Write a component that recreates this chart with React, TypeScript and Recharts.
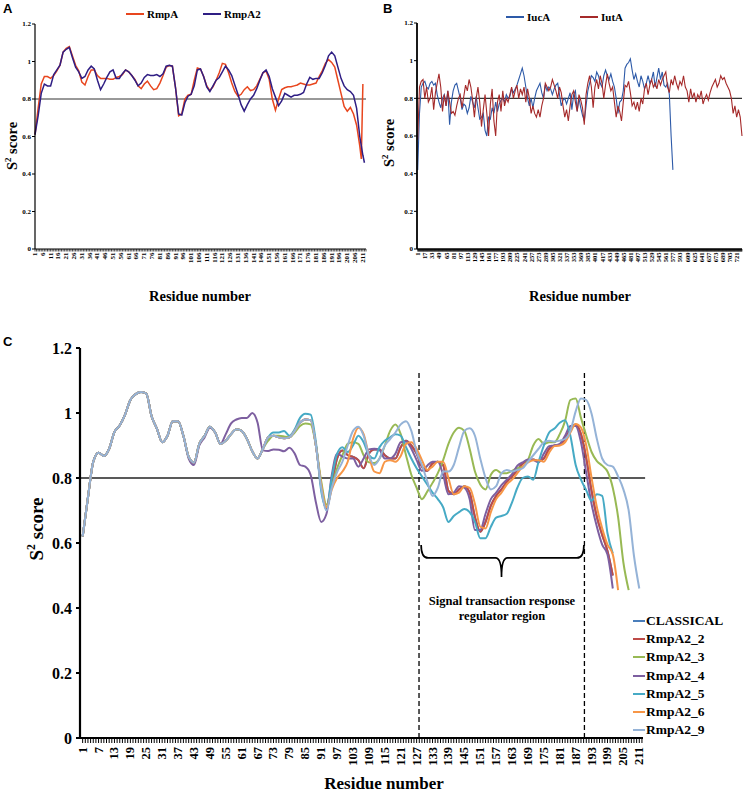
import React from 'react';
import { LineChart, Line, XAxis, YAxis, ReferenceLine, Legend } from 'recharts';

const SERIF = '"Liberation Serif", "Times New Roman", serif';
const SANS = '"Liberation Sans", Arial, sans-serif';

// ---------------- Panel A ----------------
const aResidues = [...Array.from({ length: 105 }, (_, i) => 1 + 2 * i), 210, 211, 212];
const aRmpA = [
  0.61, 0.75, 0.88, 0.92, 0.92, 0.91, 0.925, 0.95, 0.98, 1.05,
  1.07, 1.08, 1.03, 0.98, 0.95, 0.89, 0.875, 0.92, 0.955, 0.955,
  0.925, 0.91, 0.91, 0.91, 0.905, 0.905, 0.915, 0.92, 0.93, 0.955,
  0.945, 0.925, 0.905, 0.87, 0.855, 0.88, 0.895, 0.87, 0.85, 0.855,
  0.885, 0.925, 0.97, 0.978, 0.975, 0.86, 0.71, 0.72, 0.8, 0.82,
  0.825, 0.9, 0.965, 0.96, 0.92, 0.87, 0.845, 0.865, 0.9, 0.94,
  0.99, 0.985, 0.94, 0.885, 0.84, 0.815, 0.825, 0.85, 0.865, 0.845,
  0.85, 0.87, 0.905, 0.94, 0.95, 0.905, 0.8, 0.74, 0.8, 0.85,
  0.86, 0.865, 0.865, 0.87, 0.875, 0.885, 0.88, 0.875, 0.875, 0.88,
  0.885, 0.92, 0.95, 0.99, 1.01, 0.995, 0.97, 0.9, 0.83, 0.76,
  0.735, 0.755, 0.72, 0.66, 0.55, 0.48, 0.88, null,
];
const aRmpA2 = [
  0.61, 0.71, 0.83, 0.88, 0.87, 0.87, 0.93, 0.955, 0.98, 1.05,
  1.065, 1.075, 1.02, 0.97, 0.945, 0.91, 0.92, 0.955, 0.975, 0.96,
  0.9, 0.85, 0.88, 0.915, 0.945, 0.955, 0.91, 0.91, 0.935, 0.955,
  0.945, 0.925, 0.9, 0.87, 0.885, 0.915, 0.93, 0.925, 0.925, 0.93,
  0.92, 0.935, 0.975, 0.98, 0.975, 0.86, 0.72, 0.715, 0.78, 0.815,
  0.825, 0.87, 0.955, 0.96, 0.92, 0.865, 0.84, 0.87, 0.9, 0.915,
  0.945, 0.975, 0.955, 0.925, 0.875, 0.825, 0.77, 0.735, 0.77, 0.8,
  0.82, 0.855, 0.9, 0.94, 0.955, 0.92, 0.855, 0.81, 0.765, 0.79,
  0.83, 0.82, 0.81, 0.82, 0.82, 0.825, 0.835, 0.88, 0.915, 0.905,
  0.91, 0.91, 0.94, 0.98, 1.03, 1.05, 1.03, 0.97, 0.91, 0.87,
  0.85, 0.84, 0.82, 0.75, 0.6, 0.55, 0.5, 0.46,
];
const aTickLabels = [
  1, 6, 11, 16, 21, 26, 31, 36, 41, 46, 51, 56, 61, 66, 71, 76, 81, 86, 91, 96, 101, 106,
  111, 116, 121, 126, 131, 136, 141, 146, 151, 156, 161, 166, 171, 176, 181, 186, 191, 196,
  201, 206, 211,
];

// ---------------- Panel B ----------------
const bResidues = Array.from({ length: 184 }, (_, i) => 1 + 4 * i);
const bIucA = [
  0.42, 0.72, 0.86, 0.88, 0.89, 0.86, 0.85, 0.88, 0.89, 0.87,
  0.88, 0.82, 0.78, 0.75, 0.8, 0.82, 0.76, 0.84, 0.66, 0.78,
  0.84, 0.87, 0.88, 0.84, 0.8, 0.74, 0.77, 0.76, 0.72, 0.75,
  0.81, 0.78, 0.75, 0.81, 0.75, 0.69, 0.7, 0.72, 0.63, 0.6,
  0.7, 0.69, 0.75, 0.72, 0.78, 0.73, 0.77, 0.79, 0.8, 0.78,
  0.82, 0.8, 0.81, 0.85, 0.83, 0.85, 0.87, 0.9, 0.93, 0.96,
  0.92, 0.86, 0.8, 0.76, 0.8, 0.75, 0.8, 0.84, 0.86, 0.88,
  0.83, 0.8, 0.87, 0.84, 0.86, 0.85, 0.82, 0.85, 0.87, 0.88,
  0.82, 0.76, 0.79, 0.8, 0.77, 0.8, 0.83, 0.74, 0.82, 0.84,
  0.73, 0.8, 0.75, 0.71, 0.68, 0.76, 0.84, 0.88, 0.92, 0.91,
  0.89, 0.94, 0.92, 0.88, 0.86, 0.92, 0.95, 0.92, 0.9, 0.93,
  0.89, 0.86, 0.8, 0.72, 0.78, 0.79, 0.84, 0.96, 0.98, 0.99,
  1.01, 0.95, 0.9, 0.93, 0.89, 0.86, 0.92, 0.89, 0.85, 0.88,
  0.92, 0.88, 0.9, 0.94, 0.86, 0.91, 0.96, 0.9, 0.94, 0.87,
  0.86, 0.88, 0.82, 0.6, 0.42,
];
const bIutA = [
  0.58, 0.86, 0.89, 0.9, 0.8, 0.86, 0.78, 0.8, 0.86, 0.74,
  0.83, 0.88, 0.93, 0.86, 0.73, 0.82, 0.76, 0.84, 0.78, 0.72,
  0.73, 0.71, 0.76, 0.8, 0.82, 0.75, 0.81, 0.87, 0.84, 0.9,
  0.86, 0.79, 0.7, 0.8, 0.86, 0.78, 0.65, 0.74, 0.82, 0.72,
  0.6, 0.77, 0.85, 0.68, 0.6, 0.78, 0.82, 0.73, 0.84, 0.76,
  0.8, 0.78, 0.82, 0.86, 0.8, 0.84, 0.87, 0.8, 0.85, 0.82,
  0.86, 0.78, 0.85, 0.8, 0.72, 0.76, 0.72, 0.7, 0.74, 0.7,
  0.76, 0.8, 0.88, 0.86, 0.84, 0.86, 0.9, 0.87, 0.84, 0.8,
  0.86, 0.83, 0.76, 0.7, 0.74, 0.68, 0.76, 0.82, 0.84, 0.78,
  0.73, 0.82, 0.79, 0.75, 0.66, 0.82, 0.88, 0.92, 0.86, 0.75,
  0.86, 0.9, 0.85, 0.92, 0.88, 0.8, 0.87, 0.93, 0.88, 0.84,
  0.86, 0.78, 0.7, 0.76, 0.73, 0.68, 0.78, 0.87, 0.86, 0.89,
  0.83, 0.76, 0.78, 0.74, 0.78, 0.73, 0.8, 0.77, 0.85, 0.88,
  0.82, 0.87, 0.9, 0.86, 0.88, 0.85, 0.9, 0.87, 0.9, 0.92,
  0.94, 0.86, 0.83, 0.9, 0.87, 0.92, 0.88, 0.85, 0.89, 0.87,
  0.92, 0.86, 0.84, 0.78, 0.85, 0.8, 0.83, 0.78, 0.82, 0.8,
  0.84, 0.77, 0.8, 0.82, 0.79, 0.83, 0.86, 0.88, 0.9, 0.86,
  0.88, 0.92, 0.9, 0.91, 0.88, 0.86, 0.84, 0.8, 0.72, 0.76,
  0.7, 0.74, 0.7, 0.6,
];
const bTickLabels = [
  1, 17, 33, 49, 65, 81, 97, 113, 129, 145, 161, 177, 193, 209, 225, 241, 257, 273, 289, 305,
  321, 337, 353, 369, 385, 401, 417, 433, 449, 465, 481, 497, 513, 529, 545, 561, 577, 593,
  609, 625, 641, 657, 673, 689, 705, 721,
];

// ---------------- Panel C ----------------
const cResidues = Array.from({ length: 106 }, (_, i) => 1 + 2 * i);
const cClassical = [
  0.62, 0.74, 0.85, 0.878, 0.868, 0.89, 0.942, 0.962, 0.995, 1.04,
  1.058, 1.065, 1.06, 0.99, 0.952, 0.91, 0.93, 0.975, 0.975, 0.93,
  0.865, 0.848, 0.905, 0.93, 0.958, 0.94, 0.905,
  0.915, 0.935, 0.95, 0.945, 0.92, 0.882, 0.86, 0.89, 0.925, 0.93,
  0.925, 0.922, 0.925, 0.945, 0.97, 0.98, 0.978, 0.9,
  0.775, 0.705, 0.78, 0.86, 0.885, 0.87, 0.865, 0.855, 0.83, 0.875,
  0.888, 0.888, 0.87, 0.86, 0.86, 0.895, 0.915, 0.9, 0.875, 0.835,
  0.822, 0.845, 0.85, 0.84, 0.76, 0.75, 0.765, 0.775, 0.755, 0.68,
  0.635, 0.665, 0.715, 0.745, 0.765, 0.788, 0.805, 0.825, 0.845, 0.852,
  0.857, 0.852, 0.86, 0.89, 0.9, 0.902, 0.92, 0.95, 0.965, 0.935,
  0.86, 0.76, 0.68, 0.625, 0.575, 0.5, null, null, null, null, null,
];
const cRmpA2_2 = [
  0.62, 0.74, 0.85, 0.878, 0.868, 0.89, 0.942, 0.962, 0.995, 1.04,
  1.058, 1.065, 1.06, 0.99, 0.952, 0.91, 0.93, 0.975, 0.975, 0.93,
  0.865, 0.848, 0.905, 0.93, 0.958, 0.94, 0.905,
  0.915, 0.935, 0.95, 0.945, 0.92, 0.882, 0.86, 0.89, 0.925, 0.93,
  0.925, 0.922, 0.925, 0.945, 0.97, 0.98, 0.978, 0.9,
  0.775, 0.705, 0.78, 0.86, 0.885, 0.87, 0.865, 0.855, 0.83, 0.875,
  0.888, 0.888, 0.87, 0.86, 0.86, 0.895, 0.915, 0.9, 0.875, 0.835,
  0.822, 0.845, 0.85, 0.84, 0.76, 0.75, 0.765, 0.775, 0.755, 0.68,
  0.635, 0.665, 0.715, 0.745, 0.765, 0.788, 0.805, 0.825, 0.845, 0.852,
  0.857, 0.852, 0.86, 0.89, 0.9, 0.902, 0.92, 0.95, 0.965, 0.935,
  0.86, 0.76, 0.68, 0.625, 0.575, 0.5, null, null, null, null, null,
];
const cRmpA2_3 = [
  0.62, 0.74, 0.85, 0.878, 0.868, 0.89, 0.942, 0.962, 0.995, 1.04,
  1.058, 1.065, 1.06, 0.99, 0.952, 0.91, 0.93, 0.975, 0.975, 0.93,
  0.865, 0.848, 0.905, 0.93, 0.958, 0.94, 0.905,
  0.915, 0.935, 0.95, 0.945, 0.92, 0.882, 0.86,
  0.89, 0.915, 0.93, 0.93, 0.928, 0.925, 0.94, 0.96, 0.968, 0.965,
  0.9, 0.79, 0.718, 0.775, 0.83, 0.87, 0.905, 0.91, 0.905, 0.87,
  0.848, 0.846, 0.86, 0.9, 0.945, 0.965, 0.935, 0.87, 0.81, 0.77,
  0.735, 0.758, 0.785, 0.815, 0.855, 0.905, 0.94, 0.955, 0.945, 0.89,
  0.82, 0.78, 0.765, 0.81, 0.825, 0.815, 0.815, 0.822, 0.83, 0.835,
  0.855, 0.9, 0.92, 0.905, 0.91, 0.91, 0.935, 0.975, 1.04, 1.045,
  0.985, 0.93, 0.88, 0.852, 0.838, 0.82, 0.77, 0.68, 0.54, 0.455,
  null, null,
];
const cRmpA2_4 = [
  0.62, 0.74, 0.85, 0.878, 0.868, 0.89, 0.942, 0.962, 0.995, 1.04,
  1.058, 1.065, 1.06, 0.99, 0.952, 0.91, 0.93, 0.975, 0.975, 0.93,
  0.86, 0.84, 0.9, 0.925, 0.955, 0.94, 0.905,
  0.935, 0.968, 0.98, 0.985, 0.985, 1.0, 0.97, 0.885, 0.883, 0.888,
  0.887, 0.882, 0.893, 0.875, 0.84, 0.835, 0.81, 0.725, 0.665, 0.69,
  0.81, 0.875, 0.866, 0.86, 0.86, 0.835, 0.86, 0.888, 0.89, 0.886,
  0.86, 0.86, 0.875, 0.91, 0.912, 0.89, 0.855, 0.822, 0.838, 0.85,
  0.85, 0.81, 0.75, 0.755, 0.775, 0.77, 0.735, 0.64, 0.64, 0.69,
  0.735, 0.755, 0.778, 0.795, 0.812, 0.838, 0.848, 0.857, 0.855, 0.848,
  0.875, 0.898, 0.9, 0.905, 0.93, 0.96, 0.96, 0.91, 0.815, 0.72,
  0.65, 0.595, 0.565, 0.46, null, null, null, null, null,
];
const cRmpA2_5 = [
  0.62, 0.74, 0.85, 0.878, 0.868, 0.89, 0.942, 0.962, 0.995, 1.04,
  1.058, 1.065, 1.06, 0.99, 0.952, 0.91, 0.93, 0.975, 0.975, 0.93,
  0.865, 0.848, 0.905, 0.93, 0.958, 0.94, 0.905,
  0.915, 0.935, 0.95, 0.945, 0.92, 0.882, 0.86,
  0.89, 0.925, 0.94, 0.94, 0.945, 0.93, 0.95, 0.985, 0.998, 0.995,
  0.91, 0.76, 0.71, 0.8, 0.875, 0.895, 0.88, 0.9, 0.93, 0.91,
  0.87, 0.86, 0.895, 0.915, 0.925, 0.935, 0.93, 0.895, 0.86, 0.83,
  0.805, 0.78, 0.755, 0.735, 0.71, 0.665, 0.683, 0.695, 0.705, 0.695,
  0.665, 0.615, 0.615, 0.65, 0.678, 0.683, 0.69, 0.725, 0.77, 0.8,
  0.805, 0.795, 0.85, 0.9, 0.94, 0.952, 0.97, 0.978, 0.93, 0.84,
  0.795, 0.762, 0.73, 0.75, 0.745, 0.63, 0.568, null, null, null,
  null, null,
];
const cRmpA2_6 = [
  0.62, 0.74, 0.85, 0.878, 0.868, 0.89, 0.942, 0.962, 0.995, 1.04,
  1.058, 1.065, 1.06, 0.99, 0.952, 0.91, 0.93, 0.975, 0.975, 0.93,
  0.865, 0.848, 0.905, 0.93, 0.958, 0.94, 0.905,
  0.915, 0.935, 0.95, 0.945, 0.92, 0.882, 0.86, 0.89, 0.925, 0.93,
  0.925, 0.922, 0.925, 0.945, 0.97, 0.98, 0.978, 0.9,
  0.78, 0.71, 0.765, 0.8, 0.82, 0.85, 0.92, 0.955, 0.935, 0.87,
  0.82, 0.815, 0.85, 0.855, 0.85, 0.868, 0.905, 0.91, 0.89, 0.855,
  0.825, 0.835, 0.85, 0.85, 0.8, 0.75, 0.755, 0.775, 0.77, 0.72,
  0.65, 0.645, 0.695, 0.735, 0.755, 0.78, 0.795, 0.815, 0.835, 0.848,
  0.855, 0.855, 0.85, 0.878, 0.898, 0.9, 0.91, 0.94, 0.966, 0.955,
  0.9, 0.8, 0.71, 0.645, 0.595, 0.565, 0.455, null, null, null, null,
];
const cRmpA2_9 = [
  0.62, 0.74, 0.85, 0.878, 0.868, 0.89, 0.942, 0.962, 0.995, 1.04,
  1.058, 1.065, 1.06, 0.99, 0.952, 0.91, 0.93, 0.975, 0.975, 0.93,
  0.865, 0.848, 0.905, 0.93, 0.958, 0.94, 0.905,
  0.915, 0.935, 0.95, 0.945, 0.92, 0.882, 0.86, 0.89, 0.925, 0.93,
  0.925, 0.922, 0.925, 0.945, 0.97, 0.98, 0.978, 0.9, 0.77, 0.7,
  0.77, 0.818, 0.85, 0.9, 0.945, 0.958, 0.93, 0.87, 0.84, 0.86,
  0.9, 0.92, 0.94, 0.965, 0.975, 0.945, 0.88, 0.84, 0.79, 0.745,
  0.77, 0.82, 0.82, 0.84, 0.895, 0.945, 0.953, 0.93, 0.86, 0.8,
  0.765, 0.775, 0.815, 0.825, 0.82, 0.825, 0.83, 0.85, 0.87, 0.89,
  0.91, 0.915, 0.912, 0.915, 0.92, 0.945, 1.005, 1.045, 1.04, 0.998,
  0.92, 0.86, 0.84, 0.835, 0.805, 0.765, 0.7, 0.56, 0.46,
];
const cTickLabels = [
  1, 7, 13, 19, 25, 31, 37, 43, 49, 55, 61, 67, 73, 79, 85, 91, 97, 103, 109, 115, 121, 127,
  133, 139, 145, 151, 157, 163, 169, 175, 181, 187, 193, 199, 205, 211,
];
const cRegion = [127.9, 190.3];
const cRegionLabel = ['Signal transaction response', 'regulator region'];

const yTicks = [0, 0.2, 0.4, 0.6, 0.8, 1, 1.2];
const threshold = 0.8;

const cSeries = [
  { key: 'CLASSICAL', values: cClassical, color: '#4a7ebb' },
  { key: 'RmpA2_2', values: cRmpA2_2, color: '#be4b48' },
  { key: 'RmpA2_3', values: cRmpA2_3, color: '#98b954' },
  { key: 'RmpA2_4', values: cRmpA2_4, color: '#7d5fa0' },
  { key: 'RmpA2_5', values: cRmpA2_5, color: '#46aac5' },
  { key: 'RmpA2_6', values: cRmpA2_6, color: '#f79646' },
  { key: 'RmpA2_9', values: cRmpA2_9, color: '#95b3d7' },
];

const aRows = aResidues.map((r, i) => ({ r, RmpA: aRmpA[i] ?? null, RmpA2: aRmpA2[i] ?? null }));
const bRows = bResidues.map((r, i) => ({ r, IucA: bIucA[i] ?? null, IutA: bIutA[i] ?? null }));
const cRows = cResidues.map((r, i) => {
  const row: any = { r };
  cSeries.forEach((s) => { row[s.key] = s.values[i] ?? null; });
  return row;
});

const range = (a: number, b: number) => Array.from({ length: b - a + 1 }, (_, i) => a + i);

const rotTick = (labels: number[], fontSize: number) => (props: any) => {
  const { x, y, payload } = props;
  if (!labels.includes(payload.value)) return <g />;
  return (
    <text
      x={x}
      y={y}
      transform={`rotate(-90 ${x} ${y})`}
      textAnchor="end"
      dominantBaseline="central"
      style={{ fontFamily: SERIF, fontWeight: 700, fontSize }}
      fill="#000"
    >
      {payload.value}
    </text>
  );
};

const Brace = (props: any) => {
  const { x1, y1, x2 } = props;
  const y = y1;
  const mid = (x1 + x2) / 2 - 1;
  const d = `M ${x1} ${y - 13} Q ${x1} ${y} ${x1 + 7} ${y} L ${mid - 6} ${y} Q ${mid} ${y} ${mid} ${y + 19} Q ${mid} ${y} ${mid + 6} ${y} L ${x2 - 7} ${y} Q ${x2} ${y} ${x2} ${y - 13}`;
  return <path d={d} stroke="#000" strokeWidth={1.7} fill="none" />;
};

const HLegend = (lefts: number[], top: number, width: number) => (props: any) => {
  const payload = props.payload || [];
  return (
    <div style={{ position: 'relative', width, height: 20 }}>
      {payload.map((p: any, i: number) => (
        <div
          key={p.value}
          style={{ position: 'absolute', left: lefts[i], top, display: 'flex', alignItems: 'center', whiteSpace: 'nowrap' }}
        >
          <span style={{ display: 'inline-block', width: 18, height: 2, background: p.color, marginRight: 3 }} />
          <span style={{ fontFamily: SERIF, fontWeight: 700, fontSize: 11, color: '#000', lineHeight: '12px' }}>{p.value}</span>
        </div>
      ))}
    </div>
  );
};

const VLegend = (props: any) => {
  const payload = props.payload || [];
  return (
    <div style={{ position: 'relative', width: 110, height: 130 }}>
      {payload.map((p: any, i: number) => (
        <div
          key={p.value}
          style={{ position: 'absolute', left: 0, top: i * 18.2, display: 'flex', alignItems: 'center', whiteSpace: 'nowrap', height: 18 }}
        >
          <span style={{ display: 'inline-block', width: 12, height: 2, background: p.color, marginRight: 1 }} />
          <span style={{ fontFamily: SERIF, fontWeight: 700, fontSize: 13.5, color: '#000' }}>{p.value}</span>
        </div>
      ))}
    </div>
  );
};

const S2Label = ({ x, y, size }: { x: number; y: number; size: number }) => (
  <div
    style={{
      position: 'absolute', left: x, top: y, transform: 'translate(-50%, -50%) rotate(-90deg)',
      fontFamily: SERIF, fontWeight: 700, fontSize: size, whiteSpace: 'nowrap', color: '#000', lineHeight: 1,
    }}
  >
    S<sup style={{ fontSize: size * 0.62, verticalAlign: 'super', lineHeight: 0 }}>2</sup> score
  </div>
);

const Title = ({ x, y, size, text }: { x: number; y: number; size: number; text: string }) => (
  <div
    style={{
      position: 'absolute', left: x, top: y, transform: 'translate(-50%, -50%)',
      fontFamily: SERIF, fontWeight: 700, fontSize: size, whiteSpace: 'nowrap', color: '#000', lineHeight: 1,
    }}
  >
    {text}
  </div>
);

const Letter = ({ x, y, t }: { x: number; y: number; t: string }) => (
  <div style={{ position: 'absolute', left: x, top: y, fontFamily: SANS, fontWeight: 700, fontSize: 13, lineHeight: 1, color: '#000' }}>{t}</div>
);

const smallY = { fontSize: 7, fontFamily: SERIF, fontWeight: 700, fill: '#000' };

export default function App() {
  return (
    <div style={{ position: 'absolute', left: 0, top: 0, width: 743, height: 795, background: '#fff', overflow: 'hidden' }}>
      {/* Panel A */}
      <div style={{ position: 'absolute', left: 0, top: 0 }}>
        <LineChart width={370} height={275} data={aRows} margin={{ top: 24, right: 4, bottom: 0, left: 0 }}>
          <XAxis
            dataKey="r" type="number" domain={[1, 213]} ticks={range(1, 213)} interval={0}
            tick={rotTick(aTickLabels, 7)} tickSize={2.5} tickMargin={1} height={26}
            axisLine={{ stroke: '#000', strokeWidth: 1.2 }} tickLine={{ stroke: '#000', strokeWidth: 0.7 }}
          />
          <YAxis
            type="number" domain={[0, 1.2]} ticks={yTicks} width={35} tick={smallY} tickSize={3} tickMargin={1}
            axisLine={{ stroke: '#000', strokeWidth: 1.2 }} tickLine={{ stroke: '#000' }}
          />
          <ReferenceLine y={threshold} stroke="#333" strokeWidth={1} />
          <Line dataKey="RmpA" name="RmpA" stroke="#e8461e" strokeWidth={1.5} dot={false} isAnimationActive={false} />
          <Line dataKey="RmpA2" name="RmpA2" stroke="#2f1e84" strokeWidth={1.5} dot={false} isAnimationActive={false} />
          <Legend
            layout="horizontal" align="center" verticalAlign="middle"
            wrapperStyle={{ left: 0, top: 0, width: 370, height: 20 }}
            content={HLegend([126, 203], 8, 370)}
          />
        </LineChart>
      </div>

      {/* Panel B */}
      <div style={{ position: 'absolute', left: 370, top: 0 }}>
        <LineChart width={373} height={275} data={bRows} margin={{ top: 23, right: 1, bottom: 0, left: 0 }}>
          <XAxis
            dataKey="r" type="number" domain={[-0.6, 733]} ticks={range(1, 733)} interval={0}
            tick={rotTick(bTickLabels, 6.5)} tickSize={2.5} tickMargin={1} height={26}
            axisLine={{ stroke: '#000', strokeWidth: 1.5 }} tickLine={{ stroke: '#000', strokeWidth: 0.6 }}
          />
          <YAxis
            type="number" domain={[0, 1.2]} ticks={yTicks} width={47} tick={smallY} tickSize={3} tickMargin={1}
            axisLine={{ stroke: '#000', strokeWidth: 1.8 }} tickLine={{ stroke: '#000' }}
          />
          <ReferenceLine y={threshold} stroke="#333" strokeWidth={1.2} />
          <Line dataKey="IucA" name="IucA" stroke="#2d5aa8" strokeWidth={1.1} dot={false} isAnimationActive={false} />
          <Line dataKey="IutA" name="IutA" stroke="#a52a2a" strokeWidth={1.1} dot={false} isAnimationActive={false} />
          <Legend
            layout="horizontal" align="center" verticalAlign="middle"
            wrapperStyle={{ left: 0, top: 0, width: 373, height: 20 }}
            content={HLegend([136, 210], 11, 373)}
          />
        </LineChart>
      </div>

      {/* Panel C */}
      <div style={{ position: 'absolute', left: 0, top: 330 }}>
        <LineChart width={743} height={465} data={cRows} margin={{ top: 18, right: 100, bottom: 7, left: 0 }}>
          <XAxis
            dataKey="r" type="number" domain={[0, 212.4]} ticks={range(1, 212)} interval={0}
            tick={rotTick(cTickLabels, 12.5)} tickSize={5} tickMargin={4} height={50}
            axisLine={{ stroke: '#000', strokeWidth: 2 }} tickLine={{ stroke: '#000', strokeWidth: 1 }}
          />
          <YAxis
            type="number" domain={[0, 1.2]} ticks={yTicks} width={80}
            tick={{ fontSize: 16, fontFamily: SERIF, fontWeight: 700, fill: '#000' }} tickSize={4} tickMargin={4}
            axisLine={{ stroke: '#000', strokeWidth: 2.2 }} tickLine={{ stroke: '#000', strokeWidth: 2 }}
          />
          <ReferenceLine
            segment={[{ x: 0, y: threshold }, { x: 213.2, y: threshold }]}
            stroke="#222" strokeWidth={1.4} ifOverflow="visible"
          />
          <ReferenceLine
            segment={[{ x: cRegion[0], y: 0 }, { x: cRegion[0], y: 1.13 }]}
            stroke="#000" strokeWidth={1.3} strokeDasharray="5 3"
          />
          <ReferenceLine
            segment={[{ x: cRegion[1], y: 0 }, { x: cRegion[1], y: 1.13 }]}
            stroke="#000" strokeWidth={1.3} strokeDasharray="5 3"
          />
          <ReferenceLine
            segment={[{ x: cRegion[0] + 0.8, y: 0.554 }, { x: cRegion[1] - 0.2, y: 0.554 }]}
            shape={Brace}
          />
          {cSeries.map((s) => (
            <Line
              key={s.key} dataKey={s.key} name={s.key} stroke={s.color} strokeWidth={2}
              type="monotone" dot={false} isAnimationActive={false}
            />
          ))}
          <Legend
            layout="vertical" align="center" verticalAlign="middle"
            wrapperStyle={{ left: 633, top: 282, width: 110, height: 130 }}
            content={VLegend}
          />
        </LineChart>
      </div>

      {/* Titles */}
      <Letter x={3} y={2} t="A" />
      <Letter x={383} y={2} t="B" />
      <Letter x={3} y={335} t="C" />
      <S2Label x={12} y={146} size={14.5} />
      <S2Label x={389} y={143} size={14.5} />
      <S2Label x={36} y={529} size={19} />
      <Title x={200} y={296} size={14.5} text="Residue number" />
      <Title x={580} y={296} size={14.5} text="Residue number" />
      <Title x={384} y={783} size={17} text="Residue number" />
      <div
        style={{
          position: 'absolute', left: 502, top: 594, transform: 'translateX(-50%)', textAlign: 'center',
          fontFamily: SERIF, fontWeight: 700, fontSize: 12.5, lineHeight: '15px', whiteSpace: 'nowrap', color: '#000',
        }}
      >
        {cRegionLabel[0]}
        <br />
        {cRegionLabel[1]}
      </div>
    </div>
  );
}
